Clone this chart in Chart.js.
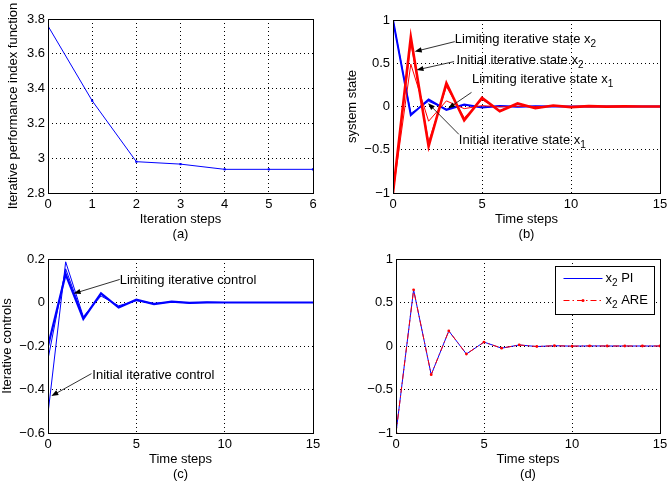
<!DOCTYPE html>
<html>
<head>
<meta charset="utf-8">
<script src="https://cdn.jsdelivr.net/npm/chart.js@4.4.1/dist/chart.umd.min.js"></script>
<style>
  html, body { margin: 0; padding: 0; background: #fff; }
  #fig { position: relative; width: 667px; height: 491px; overflow: hidden; }
  canvas { position: absolute; }
</style>
</head>
<body>
<div id="fig">
  <canvas id="chartA" width="333" height="245" style="left:0px;top:0px"></canvas>
  <canvas id="chartB" width="334" height="245" style="left:333px;top:0px"></canvas>
  <canvas id="chartC" width="333" height="251" style="left:0px;top:240px"></canvas>
  <canvas id="chartD" width="334" height="251" style="left:333px;top:240px"></canvas>
</div>
<script>
// (a) iterative performance index
const iterSteps = [0, 1, 2, 3, 4, 5, 6];
const perfIndex = [3.76, 3.33, 2.98, 2.966, 2.936, 2.936, 2.936];

// time axis for (b), (c), (d)
const timeSteps = [0, 1, 2, 3, 4, 5, 6, 7, 8, 9, 10, 11, 12, 13, 14, 15];

// (b) system states
const x1Limit   = [1, -0.10, 0.08, -0.04, 0.022, -0.012, 0.006, -0.003, 0.0015, -0.001, 0, 0, 0, 0, 0, 0];
const x1Initial = [1, -0.08, 0.06, -0.03, 0.015, -0.008, 0.004, -0.002, 0.001, 0, 0, 0, 0, 0, 0, 0];
const x2Limit   = [-1, 0.80, -0.46, 0.27, -0.16, 0.10, -0.055, 0.035, -0.02, 0.012, -0.007, 0.004, -0.002, 0.001, 0, 0];
const x2Iter1   = [-1, 0.74, -0.41, 0.23, -0.13, 0.08, -0.045, 0.027, -0.015, 0.009, -0.005, 0.003, -0.001, 0, 0, 0];
const x2Initial = [-1, 0.49, -0.17, 0.065, -0.025, 0.01, -0.004, 0.002, -0.001, 0, 0, 0, 0, 0, 0, 0];

// (c) iterative controls
const uLimit   = [-0.20, 0.13, -0.075, 0.042, -0.023, 0.013, -0.007, 0.004, -0.002, 0.001, 0, 0, 0, 0, 0, 0];
const uIter1   = [-0.26, 0.155, -0.07, 0.038, -0.02, 0.011, -0.006, 0.003, -0.0015, 0.001, 0, 0, 0, 0, 0, 0];
const uInitial = [-0.51, 0.187, -0.065, 0.03, -0.015, 0.008, -0.004, 0.002, -0.001, 0, 0, 0, 0, 0, 0, 0];

// (d) PI vs ARE
const x2PI  = [-1, 0.646, -0.33, 0.173, -0.092, 0.045, -0.025, 0.012, -0.006, 0.003, -0.0015, 0.0008, 0, 0, 0, 0];
const x2ARE = [-1, 0.646, -0.33, 0.173, -0.092, 0.045, -0.025, 0.012, -0.006, 0.003, -0.0015, 0.0008, 0, 0, 0, 0];

const FAMILY = '"Liberation Sans", Arial, Helvetica, sans-serif';
Chart.defaults.color = '#000';
Chart.defaults.font.family = FAMILY;
Chart.defaults.font.size = 13;

const pts = (xs, ys) => xs.map((x, i) => ({ x: x, y: ys[i] }));
const fmt = v => { const r = Math.round(v * 10) / 10; return r < 0 ? '\u2212' + Math.abs(r) : String(r); };

function xAxis(max, step, lines) {
  return {
    type: 'linear', min: 0, max: max,
    ticks: { stepSize: step, padding: 4, callback: fmt, maxRotation: 0, autoSkip: false },
    grid: { color: '#000', lineWidth: 1, drawTicks: false },
    border: { display: false, dash: [1, 3] },
    title: { display: true, text: lines, font: { size: 13, lineHeight: '15px' }, padding: { top: 0, bottom: 0 } },
    afterFit: s => { s.height = 49; s.paddingLeft = 0; s.paddingRight = 0; }
  };
}

function yAxis(min, max, step, width, title, pad) {
  return {
    type: 'linear', min: min, max: max,
    ticks: { stepSize: step, padding: 3, callback: fmt },
    grid: { color: '#000', lineWidth: 1, drawTicks: false },
    border: { display: false, dash: [1, 3] },
    title: { display: !!title, text: title || '', font: { size: 13, lineHeight: '15px' }, padding: { top: pad, bottom: 0 } },
    afterFit: s => { s.width = width; s.paddingTop = 0; s.paddingBottom = 0; }
  };
}

// axes box (MATLAB style)
const frame = {
  id: 'frame',
  afterDraw(chart) {
    const { left, top, right, bottom } = chart.chartArea;
    const ctx = chart.ctx;
    ctx.save();
    ctx.strokeStyle = '#000';
    ctx.lineWidth = 1;
    ctx.strokeRect(Math.round(left) + 0.5, Math.round(top) + 0.5, Math.round(right - left), Math.round(bottom - top));
    ctx.restore();
  }
};

function drawParts(ctx, x, y, parts) {
  ctx.textBaseline = 'middle';
  ctx.textAlign = 'left';
  parts.forEach(p => {
    ctx.font = (p.sub ? '10px ' : '13px ') + FAMILY;
    ctx.fillText(p.t, x, p.sub ? y + 5 : y);
    x += ctx.measureText(p.t).width;
  });
}

function arrow(ctx, x0, y0, x1, y1) {
  const a = Math.atan2(y1 - y0, x1 - x0), L = 7, W = 2.6;
  ctx.beginPath();
  ctx.moveTo(x0, y0);
  ctx.lineTo(x1 - 4 * Math.cos(a), y1 - 4 * Math.sin(a));
  ctx.stroke();
  ctx.beginPath();
  ctx.moveTo(x1, y1);
  ctx.lineTo(x1 - L * Math.cos(a) + W * Math.sin(a), y1 - L * Math.sin(a) - W * Math.cos(a));
  ctx.lineTo(x1 - L * Math.cos(a) - W * Math.sin(a), y1 - L * Math.sin(a) + W * Math.cos(a));
  ctx.closePath();
  ctx.fill();
}

// text notes with arrows, placed in data coordinates
const notes = {
  id: 'notes',
  afterDraw(chart, args, opts) {
    if (!opts.items) return;
    const ctx = chart.ctx, xs = chart.scales.x, ys = chart.scales.y;
    ctx.save();
    ctx.fillStyle = '#000';
    ctx.strokeStyle = '#1a1a1a';
    ctx.lineWidth = 0.9;
    opts.items.forEach(n => {
      arrow(ctx, xs.getPixelForValue(n.tail[0]), ys.getPixelForValue(n.tail[1]),
                 xs.getPixelForValue(n.head[0]), ys.getPixelForValue(n.head[1]));
      drawParts(ctx, xs.getPixelForValue(n.at[0]), ys.getPixelForValue(n.at[1]), n.parts);
    });
    ctx.restore();
  }
};

// boxed legend for (d) with subscripts
const keyBox = {
  id: 'keyBox',
  afterDraw(chart, args, opts) {
    if (!opts.rows) return;
    const ctx = chart.ctx, ca = chart.chartArea;
    const bw = 99, bh = 48;
    const bx = Math.round(ca.right - 6 - bw) + 0.5, by = Math.round(ca.top + 7) + 0.5;
    ctx.save();
    ctx.fillStyle = '#fff';
    ctx.fillRect(bx, by, bw, bh);
    ctx.strokeStyle = '#000';
    ctx.lineWidth = 1;
    ctx.strokeRect(bx, by, bw, bh);
    opts.rows.forEach((r, i) => {
      const y = by + 12 + i * 22;
      ctx.strokeStyle = r.color;
      ctx.lineWidth = 1;
      ctx.setLineDash(r.dash || []);
      ctx.beginPath();
      ctx.moveTo(bx + 8, y);
      ctx.lineTo(bx + 47, y);
      ctx.stroke();
      ctx.setLineDash([]);
      if (r.dot) {
        ctx.fillStyle = r.color;
        ctx.beginPath();
        ctx.arc(bx + 27.5, y, 1.5, 0, Math.PI * 2);
        ctx.fill();
      }
      ctx.fillStyle = '#000';
      drawParts(ctx, bx + 50, y, r.parts);
    });
    ctx.restore();
  }
};

const base = { responsive: false, animation: false, devicePixelRatio: 1 };

new Chart(document.getElementById('chartA'), {
  type: 'line',
  data: {
    datasets: [{
      data: pts(iterSteps, perfIndex), borderColor: '#0000ff', borderWidth: 1,
      pointStyle: 'rect', pointRadius: 1.5, pointBackgroundColor: '#0000ff', pointBorderWidth: 0
    }]
  },
  options: Object.assign({}, base, {
    layout: { padding: { top: 19, right: 20, bottom: 3, left: 0 } },
    plugins: { legend: { display: false }, tooltip: { enabled: false } },
    scales: {
      x: xAxis(6, 1, ['Iteration steps', '(a)']),
      y: yAxis(2.8, 3.8, 0.2, 48, 'Iterative performance index function', 5.5)
    }
  }),
  plugins: [frame]
});

const thin = (d, c) => ({ data: pts(timeSteps, d), borderColor: c, borderWidth: 1, pointRadius: 0 });
const thick = (d, c, w) => ({ data: pts(timeSteps, d), borderColor: c, borderWidth: w, pointRadius: 0 });

new Chart(document.getElementById('chartB'), {
  type: 'line',
  data: {
    datasets: [
      thick(x2Limit, '#ff0000', 2.6),
      thin(x2Iter1, '#ff0000'),
      thin(x2Initial, '#ff0000'),
      thick(x1Limit, '#0000ff', 2),
      thin(x1Initial, '#0000ff')
    ]
  },
  options: Object.assign({}, base, {
    layout: { padding: { top: 20, right: 7, bottom: 3, left: 0 } },
    plugins: {
      legend: { display: false }, tooltip: { enabled: false },
      notes: { items: [
        { parts: [{ t: 'Limiting iterative state x' }, { t: '2', sub: true }], at: [3.47, 0.774], tail: [3.47, 0.75], head: [1.22, 0.635] },
        { parts: [{ t: 'Initial iterative state x' }, { t: '2', sub: true }], at: [3.57, 0.538], tail: [3.43, 0.519], head: [1.32, 0.422] },
        { parts: [{ t: 'Limiting iterative state x' }, { t: '1', sub: true }], at: [4.44, 0.317], tail: [4.41, 0.163], head: [3.09, -0.023] },
        { parts: [{ t: 'Initial iterative state x' }, { t: '1', sub: true }], at: [3.70, -0.392], tail: [3.70, -0.322], head: [1.97, 0.038] }
      ] }
    },
    scales: {
      x: xAxis(15, 5, ['Time steps', '(b)']),
      y: yAxis(-1, 1, 0.5, 60, 'system state', 12)
    }
  }),
  plugins: [frame, notes]
});

new Chart(document.getElementById('chartC'), {
  type: 'line',
  data: {
    datasets: [
      thick(uLimit, '#0000ff', 2.2),
      thin(uIter1, '#0000ff'),
      thin(uInitial, '#0000ff')
    ]
  },
  options: Object.assign({}, base, {
    layout: { padding: { top: 19, right: 20, bottom: 9, left: 0 } },
    plugins: {
      legend: { display: false }, tooltip: { enabled: false },
      notes: { items: [
        { parts: [{ t: 'Limiting iterative control' }], at: [4.06, 0.103], tail: [4.06, 0.106], head: [1.45, 0.041] },
        { parts: [{ t: 'Initial iterative control' }], at: [2.51, -0.335], tail: [2.46, -0.327], head: [0.19, -0.43] }
      ] }
    },
    scales: {
      x: xAxis(15, 5, ['Time steps', '(c)']),
      y: yAxis(-0.6, 0.2, 0.2, 48, 'Iterative controls', 0)
    }
  }),
  plugins: [frame, notes]
});

new Chart(document.getElementById('chartD'), {
  type: 'line',
  data: {
    datasets: [
      {
        data: pts(timeSteps, x2ARE), borderColor: '#ff0000', borderWidth: 1, borderDash: [6, 3, 1.5, 3],
        pointRadius: 1.4, pointBackgroundColor: '#ff0000', pointBorderWidth: 0
      },
      { data: pts(timeSteps, x2PI), borderColor: '#0000ff', borderWidth: 1, pointRadius: 0 }
    ]
  },
  options: Object.assign({}, base, {
    layout: { padding: { top: 19, right: 7, bottom: 9, left: 0 } },
    plugins: {
      legend: { display: false }, tooltip: { enabled: false },
      keyBox: { rows: [
        { color: '#0000ff', parts: [{ t: 'x' }, { t: '2', sub: true }, { t: ' PI' }] },
        { color: '#ff0000', dash: [6, 3, 1.5, 3], dot: true, parts: [{ t: 'x' }, { t: '2', sub: true }, { t: ' ARE' }] }
      ] }
    },
    scales: {
      x: xAxis(15, 5, ['Time steps', '(d)']),
      y: yAxis(-1, 1, 0.5, 63, '', 0)
    }
  }),
  plugins: [frame, keyBox]
});
</script>
</body>
</html>
